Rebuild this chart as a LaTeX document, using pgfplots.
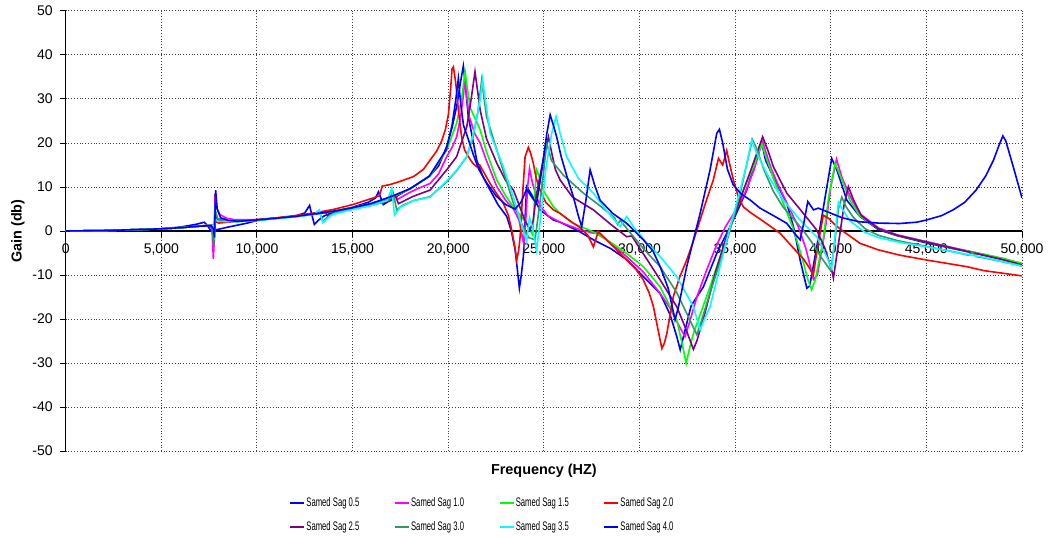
\documentclass[border=0pt]{standalone}
\usepackage{fontspec}
\setmainfont{Liberation Sans}
\usepackage{graphicx}
\usepackage{pgfplots}
\pgfplotsset{compat=1.18}

\definecolor{sagA}{RGB}{0,0,255}
\definecolor{sagB}{RGB}{255,0,255}
\definecolor{sagC}{RGB}{0,255,0}
\definecolor{sagD}{RGB}{255,0,0}
\definecolor{sagE}{RGB}{128,0,128}
\definecolor{sagF}{RGB}{51,153,102}
\definecolor{sagG}{RGB}{0,255,255}
\definecolor{sagH}{RGB}{0,0,255}

\newcommand{\legtext}[1]{\makebox[43.35pt][l]{\scalebox{0.62}[1]{#1}}}

\begin{document}
\begin{tikzpicture}
\begin{axis}[
    name=ax,
    width=478.15pt, height=220pt, scale only axis,
    xmin=0, xmax=50000, ymin=-50, ymax=50,
    axis x line=middle, axis y line=left,
    axis line style={-, black, line width=0.6pt},
    xtick={0,5000,...,50000}, ytick={-50,-40,...,50},
    hide obscured x ticks=false, hide obscured y ticks=false,
    scaled x ticks=false,
    /pgf/number format/assume math mode=true,
    /pgf/number format/1000 sep={,},
    grid=major,
    major grid style={densely dotted, black!75, line width=0.5pt},
    tick style={black, line width=0.5pt},
    major tick length=3pt, tick align=outside,
    ticklabel style={font=\fontsize{7}{8.4}\selectfont},
    xlabel={Frequency (HZ)}, ylabel={Gain (db)},
    every axis x label/.style={at={(axis description cs:0.5,-0.045)}, anchor=center,
        font=\bfseries\fontsize{7.2}{8.6}\selectfont},
    every axis y label/.style={at={(axis description cs:-0.05,0.5)}, rotate=90, anchor=center,
        font=\bfseries\fontsize{7.2}{8.6}\selectfont},
    legend columns=4,
    legend cell align=left,
    legend style={at={(axis description cs:0.2335,-0.1)}, anchor=north west,
        draw=none, fill=none, font=\fontsize{6.2}{7.4}\selectfont,
        column sep=0pt, row sep=4pt, inner sep=0pt,
        nodes={inner xsep=0.5pt, inner ysep=1pt}},
    legend image code/.code={\draw[#1, line width=1pt] (0pt,0pt) -- (7pt,0pt);},
]

% Samed Sag 0.5
\addplot[sagA, line width=0.8pt] coordinates {
(0,0) (2000,0.1) (4000,0.35) (5000,0.5) (6000,0.9) (6800,1.5) (7250,2.0) (7450,1.0) (7600,0.0)
(8500,0.9) (9500,1.8) (10000,2.4) (11000,2.9) (12000,3.4) (12500,4.1) (12750,5.8) (12880,3.5)
(13000,1.5) (13200,2.4) (13500,3.4) (14000,4.3) (15000,5.4) (15800,6.5) (16200,7.5) (16350,8.9)
(16480,7.5) (16610,6.0) (16900,6.8) (17500,8.4) (18180,10.1) (19050,12.6) (19500,14.8) (19920,19.2)
(20200,23.5) (20450,28.5) (20650,34) (20790,37.5) (20880,34) (21050,26) (21230,22) (21490,16.1)
(21800,12.5) (22190,9.3) (22600,6.0) (23060,3.3) (23300,0) (23500,-4.3) (23620,-9) (23720,-13.0)
(23820,-10) (23930,-5.8) (24020,3) (24100,10.1) (24370,8.2) (24800,4.8) (25500,2.5) (25850,2.0)
(26890,-0.2) (27590,-2.0) (28500,-4) (29330,-6.5) (30030,-9.6) (31080,-14.2) (31600,-19) (31950,-24)
(32130,-27.0) (32300,-24) (32700,-17) (33340,-12.7) (34040,-5.1) (34910,2.5) (35610,9.3) (36130,16.9)
(36390,20.0) (36600,16) (37000,12.3) (37700,6.3) (38050,1.0) (38400,-6.6) (38750,-13.0) (38900,-12.5)
(39270,-3.6) (39800,10.1) (40050,16.5) (40320,13.9) (40840,7.0) (41530,3.3) (42500,0.3) (43500,-1.1)
(45000,-2.7) (46500,-4.1) (48000,-5.5) (49000,-6.5) (50000,-7.5)
};
\addlegendentry{\legtext{Samed Sag 0.5}}

% Samed Sag 1.0
\addplot[sagB, line width=0.8pt] coordinates {
(0,0) (2000,0.1) (4000,0.35) (5000,0.5) (6000,0.75) (7000,1.1) (7500,1.3) (7650,0.5) (7720,-6.3)
(7770,-2) (7810,8.6) (7880,5.5) (8050,3.8) (8400,2.9) (8800,2.6) (10000,2.6) (11000,2.9) (12000,3.3)
(13000,3.9) (14000,4.5) (15000,5.3) (16000,6.2) (17000,7.3) (17250,7.9) (17350,7.2) (18000,8.8)
(18500,9.8) (19050,10.8) (19500,13) (19920,16.9) (20200,19) (20440,21.4) (20650,26) (20800,31)
(20880,35.1) (20950,31) (21100,26) (21400,22) (21670,20) (22000,16) (22540,10.1) (23000,7) (23410,5)
(23700,2.5) (23950,-3) (24050,2) (24150,10) (24250,14.2) (24400,11) (24600,8) (24800,5.8) (25200,3.5)
(25850,2.0) (26890,0.3) (27590,-0.5) (27800,-0.2) (28000,-1) (28500,-2.8) (29330,-5.8) (30200,-9.3)
(31080,-14.2) (31600,-17.5) (32000,-21) (32380,-24.0) (32600,-21) (33000,-15) (33500,-9) (34000,-3.5)
(34500,1) (35000,4.5) (35500,8.5) (36000,14) (36300,18.5) (36450,20.3) (36600,18) (36900,14)
(37300,10) (37800,5.5) (38300,1) (38700,-4) (39100,-11) (39300,-10) (39700,0) (40000,10) (40300,16.3)
(40600,12) (41000,8) (41500,4) (42500,0.7) (43500,-0.9) (45000,-2.4) (46500,-3.9) (48000,-5.3)
(49000,-6.3) (50000,-7.4)
};
\addlegendentry{\legtext{Samed Sag 1.0}}

% Samed Sag 1.5
\addplot[sagC, line width=0.8pt] coordinates {
(0,0) (2000,0.1) (4000,0.35) (5000,0.5) (6000,0.75) (7000,1.1) (7600,1.3) (7700,0.5) (7760,-2.5)
(7820,3.5) (7950,2.5) (8500,2.3) (9000,2.3) (10000,2.5) (11000,2.9) (12000,3.3) (13000,3.9)
(14000,4.5) (15000,5.3) (16000,6.3) (17000,7.6) (18000,9.5) (19050,12.5) (19920,18.4) (20440,24.5)
(20700,30) (20880,36.2) (20980,33) (21150,28) (21670,23) (22000,18) (22540,11.6) (23000,8)
(23400,5.5) (24100,1.75) (24420,-0.9) (24520,8) (24620,13.9) (24750,12.5) (25000,9) (25500,5.5)
(25850,4.0) (26500,1.8) (27590,-0.2) (28500,-2.6) (29330,-5.1) (30200,-8.1) (31080,-12.7)
(31950,-20.2) (32250,-26) (32440,-30.1) (32600,-27) (32820,-23.3) (33690,-12.7) (34560,-1.3)
(35430,9.3) (36000,15) (36390,19.9) (36600,17) (37000,12) (37500,6.5) (38000,1) (38500,-6)
(38800,-11) (39000,-13.3) (39200,-11) (39600,-2) (39900,8) (40230,15.4) (40500,12.5) (41000,7)
(41500,3.5) (42500,0.5) (43500,-1) (45000,-2.5) (46500,-4) (48000,-5.3) (49000,-6.2) (50000,-7.4)
};
\addlegendentry{\legtext{Samed Sag 1.5}}

% Samed Sag 2.0
\addplot[sagD, line width=0.8pt] coordinates {
(0,0) (2000,0.1) (4000,0.35) (5000,0.5) (6000,0.75) (7000,1.1) (7700,1.4) (7780,0.8) (7830,2.2)
(8000,1.8) (9000,2.2) (10000,2.6) (11000,3.0) (12000,3.5) (13000,4.1) (14000,4.9) (15000,6.0)
(16000,7.4) (16400,8.0) (16550,10.2) (17000,10.6) (17500,11.3) (18200,12.4) (18700,14.0)
(19050,16.1) (19400,18.2) (19660,20.5) (19850,23) (20010,26.5) (20120,32) (20200,36.8) (20270,37.3)
(20350,35) (20410,33) (20530,27.5) (20700,21.4) (20850,18.5) (21050,16.9) (21300,15.3) (21490,14.6)
(21650,15.0) (21800,13.8) (22190,10.8) (22500,8.7) (22880,6.3) (23150,3.5) (23320,0.2) (23480,-3.5)
(23580,-6.6) (23680,-4.5) (23760,-1.3) (23900,9) (24020,16.9) (24190,19.0) (24300,17.8) (24450,15.4)
(24600,12) (24800,9.3) (25100,6.5) (25500,4.8) (25850,4.0) (26400,2.2) (26890,0.8) (27300,-1.0)
(27590,-3.6) (27850,-0.1) (28110,-1.3) (28700,-3.8) (29330,-6.6) (29800,-8.6) (30200,-11.1)
(30500,-14) (30730,-17.2) (30950,-22) (31170,-26.7) (31300,-25.5) (31430,-23.3) (31770,-14.9)
(32100,-10.5) (32470,-6.6) (32800,-2.5) (33170,2.5) (33500,7) (33860,11.6) (34130,16.5) (34350,15.0)
(34560,18.3) (34700,15.5) (34910,11.6) (35150,8) (35430,5.5) (35800,4.2) (36310,2.7) (36800,1.2)
(37350,-0.5) (38050,-3.9) (38600,-6.5) (38900,-8.5) (39090,-10.0) (39300,-4) (39610,3.6) (39880,2.9)
(40200,1.5) (40660,-0.1) (41530,-2.8) (42500,-4.3) (43620,-5.5) (45020,-6.6) (46000,-7.3)
(47110,-8.1) (48000,-9) (49000,-9.6) (50000,-10.2)
};
\addlegendentry{\legtext{Samed Sag 2.0}}

% Samed Sag 2.5
\addplot[sagE, line width=0.8pt] coordinates {
(0,0) (2000,0.1) (4000,0.35) (5000,0.5) (6000,0.75) (7000,1.1) (7650,1.2) (7740,-2.8) (7800,4.0)
(7950,2.6) (8500,2.3) (9000,2.2) (10000,2.5) (11000,2.9) (12000,3.3) (13000,3.8) (13600,4.2)
(13700,3.3) (14000,4.0) (15000,5.0) (16000,5.9) (17000,6.9) (17250,7.8) (17400,6.2) (18180,7.9)
(19050,9.3) (19920,13.9) (20440,16.9) (20970,23.7) (21200,30) (21400,36.2) (21500,33) (21670,27.5)
(22000,21) (22540,15.4) (23000,11.5) (23410,9.3) (23700,6) (24000,2.5) (24280,0.2) (24450,2.5)
(24600,8) (25000,17) (25240,21.4) (25400,18) (25600,14) (25850,11.6) (26500,7.7) (27590,4.8)
(28500,1.5) (29330,-1.3) (29600,-1.1) (29800,-2.5) (30400,-6.5) (31080,-11.1) (31950,-17.2)
(32400,-22) (32820,-26.9) (33000,-25) (33400,-19) (34000,-9) (34500,-2) (35000,4) (35500,10)
(36000,16) (36440,21.4) (36700,18.5) (37000,14.6) (37700,8.6) (38570,4.0) (39270,0.2) (39700,-4)
(40050,-8.9) (40140,-10.7) (40400,-3) (40700,6) (40920,10.1) (41200,7) (41600,3.5) (42500,0.5)
(43500,-1.0) (45000,-2.5) (46500,-4) (48000,-5.5) (49000,-6.5) (50000,-7.7)
};
\addlegendentry{\legtext{Samed Sag 2.5}}

% Samed Sag 3.0
\addplot[sagF, line width=0.8pt] coordinates {
(0,0) (2000,0.1) (4000,0.35) (5000,0.5) (6000,0.75) (7000,1.1) (7650,1.3) (7740,-3.5) (7800,5)
(7950,2.8) (8500,2.3) (9000,2.2) (10000,2.5) (11000,2.9) (12000,3.3) (13000,3.8) (13250,4.5)
(13450,2.2) (13800,3.5) (14000,4.0) (15000,5.0) (16000,5.9) (16900,7.0) (17100,9.0) (17310,4.8)
(17600,5.8) (18180,6.9) (19050,7.8) (19920,11.2) (20440,13.7) (20970,16.9) (21300,21.5) (21550,27)
(21750,34.3) (21850,31) (22000,26) (22540,18.4) (23000,12) (23410,6.3) (23800,2) (24200,-1.5)
(24540,-2.0) (24900,10) (25150,19.9) (25400,16) (26020,12.7) (27070,8.6) (28000,5.5) (28700,3.0)
(28850,1.5) (29000,2.4) (29500,-0.3) (30200,-4) (31080,-8.1) (31950,-14) (32500,-19) (33000,-23.6)
(33200,-21) (33690,-14) (34560,-2.5) (35260,8.5) (35900,20.8) (36100,19) (36500,14) (37000,9)
(37500,5.5) (38000,3) (38500,0.5) (39000,-2.5) (39500,-6) (40000,-9) (40200,-3) (40400,5)
(40580,7.7) (40800,5.5) (41200,3) (41800,0.5) (42500,-1) (43500,-2.2) (45000,-3.5) (46500,-4.8)
(47200,-5.5) (47400,-4.8) (47600,-5.8) (48000,-6.1) (49000,-7.0) (50000,-7.9)
};
\addlegendentry{\legtext{Samed Sag 3.0}}

% Samed Sag 3.5
\addplot[sagG, line width=0.8pt] coordinates {
(0,0) (2000,0.1) (4000,0.35) (5000,0.5) (6000,0.75) (7000,1.1) (7700,1.3) (7760,-0.5) (7820,2.5)
(8000,2.2) (9000,2.1) (10000,2.4) (11000,2.8) (12000,3.2) (13000,3.8) (13250,4.8) (13450,1.9)
(13800,3.3) (14000,3.8) (15000,4.9) (16000,5.8) (16800,6.9) (17050,9.7) (17190,3.6) (17500,5.4)
(18180,6.9) (19050,7.7) (19920,11.4) (20440,13.8) (20970,16.9) (21320,22.2) (21670,29.8)
(21800,34.5) (21900,31) (22190,22.2) (22880,14.6) (23400,7.8) (23760,2.5) (24100,-2.4) (24250,3)
(24400,1) (24620,-4.3) (24800,2) (25100,14) (25400,22) (25640,26.0) (25850,22.2) (26190,16.9)
(26800,12) (27590,8.6) (28300,4.5) (28990,1.0) (29330,3.3) (29680,1.0) (30400,-2.8) (31080,-5.8)
(31950,-10.4) (32820,-17.2) (33170,-22.5) (33400,-20) (33690,-17.2) (34100,-10) (34560,-2.0)
(35260,9.3) (35600,15) (35870,20.7) (36100,18) (36650,13.1) (37520,7.0) (38400,2.5) (39270,-1.3)
(39800,-6) (40050,-8.5) (40200,-2) (40400,6.5) (40600,5) (41000,2.3) (41800,-0.3) (42500,-1.5)
(43500,-2.5) (45000,-3.6) (46500,-4.8) (48000,-6.0) (49000,-7) (50000,-8.0)
};
\addlegendentry{\legtext{Samed Sag 3.5}}

% Samed Sag 4.0
\addplot[sagH, line width=0.8pt] coordinates {
(0,0) (2000,0.1) (4000,0.35) (5000,0.5) (6000,0.75) (7000,1.1) (7600,1.2) (7720,0.5) (7780,-1.5)
(7840,9.3) (7920,5) (8100,3.0) (8500,2.4) (9000,2.2) (10000,2.5) (11000,2.9) (12000,3.3)
(13000,3.9) (14000,4.5) (15000,5.3) (16000,6.3) (17000,7.8) (18000,9.6) (19000,12.4) (19900,18.5)
(20200,24) (20400,30) (20530,34.7) (20650,29) (20800,24) (21000,21.5) (21300,17.5) (21600,14)
(22000,11) (22500,8) (23000,6) (23500,5) (23800,6.5) (24100,9.5) (24400,7.5) (24620,6.3) (24900,14)
(25150,22) (25330,26.4) (25500,24) (25670,21.4) (25900,17) (26200,12.5) (26540,7.8) (26800,3.5)
(26980,1.0) (27200,7) (27420,13.9) (27650,10.5) (27940,7.0) (28600,4.0) (29330,1.75) (30200,-2.0)
(30700,-4.5) (31080,-8.1) (31500,-13) (31860,-20.2) (32050,-17) (32470,-8.1) (33170,4.0)
(33690,13.9) (34040,22.2) (34180,23.1) (34350,20) (34600,14) (34900,10.5) (35300,8.5) (35800,7.0)
(36300,5.2) (37000,3.5) (37700,1.75) (38100,-0.5) (38400,-2.0) (38600,2) (38800,6.7) (39100,4.8)
(39350,5.2) (39800,4.4) (40600,3.0) (41500,2.1) (42500,1.8) (43600,1.7) (44500,2.0) (45000,2.5)
(45800,3.5) (46400,4.8) (47000,6.5) (47600,9.3) (48100,12.5) (48500,16) (48800,19.5) (49000,21.6)
(49150,20.5) (49550,14.5) (50000,7.5)
};
\addlegendentry{\legtext{Samed Sag 4.0}}

\end{axis}
\pgfresetboundingbox
\path[use as bounding box] ([shift={(-32.85pt,-43pt)}]ax.south west) rectangle ([shift={(14.5pt,5.5pt)}]ax.north east);
\end{tikzpicture}
\end{document}
